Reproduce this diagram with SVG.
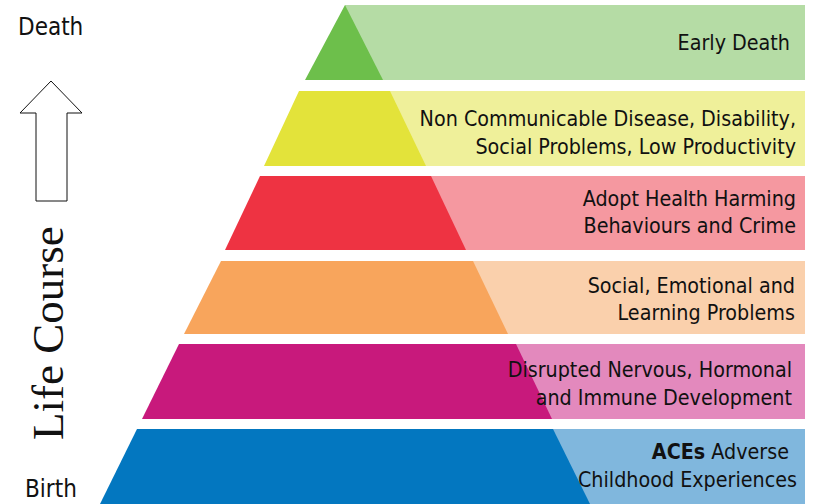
<svg xmlns="http://www.w3.org/2000/svg" width="813" height="504" viewBox="0 0 813 504">
<style>
.lbl{font-family:"DejaVu Sans Condensed","DejaVu Sans",Tahoma,sans-serif;font-size:21.3px;fill:#111;text-anchor:end}
.side{font-family:"DejaVu Sans Condensed","DejaVu Sans",sans-serif;font-size:24px;fill:#111}
.lc{font-family:"Liberation Serif","Times New Roman",serif;font-size:45px;fill:#111}
</style>
<rect width="813" height="504" fill="#fff"/>
<g id="band-early-death">
<rect x="345" y="5" width="460" height="75" fill="#b5dca5"/>
<polygon points="345,5 383,80 305,80" fill="#6dbf4b"/>
<text class="lbl" x="790" y="50">Early Death</text>
</g>
<g id="band-ncd">
<rect x="390" y="91" width="415" height="75" fill="#eff09a"/>
<polygon points="299,91 390,91 426,166 264,166" fill="#e3e33a"/>
<text class="lbl" x="796" y="126">Non Communicable Disease, Disability,</text>
<text class="lbl" x="796" y="154">Social Problems, Low Productivity</text>
</g>
<g id="band-harming">
<rect x="431" y="176" width="374" height="74" fill="#f598a0"/>
<polygon points="260,176 431,176 466,250 225,250" fill="#ee3342"/>
<text class="lbl" x="796" y="206">Adopt Health Harming</text>
<text class="lbl" x="796" y="233">Behaviours and Crime</text>
</g>
<g id="band-social">
<rect x="473" y="261" width="332" height="73" fill="#fad0ac"/>
<polygon points="221,261 473,261 508,334 184,334" fill="#f8a55c"/>
<text class="lbl" x="795" y="293">Social, Emotional and</text>
<text class="lbl" x="795" y="320">Learning Problems</text>
</g>
<g id="band-disrupted">
<rect x="516" y="344" width="289" height="75" fill="#e389bd"/>
<polygon points="179,344 516,344 552,419 142,419" fill="#c8197c"/>
<text class="lbl" x="792" y="377">Disrupted Nervous, Hormonal</text>
<text class="lbl" x="792" y="405">and Immune Development</text>
</g>
<g id="band-aces">
<rect x="553" y="429" width="252" height="75" fill="#80b7dd"/>
<polygon points="137,429 553,429 590,504 100,504" fill="#0377c0"/>
<text class="lbl" x="789" y="459"><tspan font-weight="bold">ACEs</tspan> Adverse</text>
<text class="lbl" x="797" y="487">Childhood Experiences</text>
</g>
<g id="life-course-axis">
<text class="side" x="18" y="35">Death</text>
<text class="side" x="25" y="497">Birth</text>
<polygon points="51,81 82,113 67,113 67,201 36,201 36,113 20,113" fill="#fff" stroke="#111" stroke-width="1"/>
<text class="lc" transform="translate(63,440) rotate(-90)">Life Course</text>
</g>
</svg>
